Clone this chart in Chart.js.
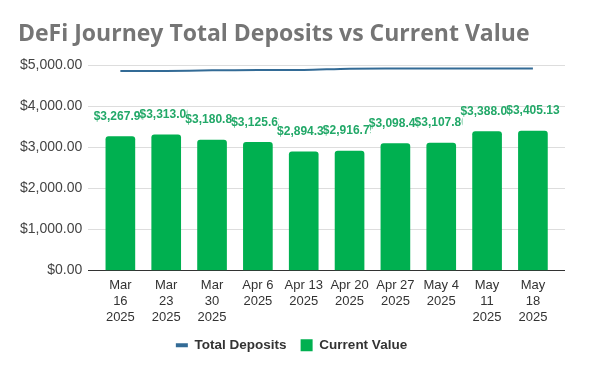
<!DOCTYPE html>
<html>
    <head>
        <style>
            body { margin: 0; background: #fff; }
            #chart-container { width: 600px; height: 371px; }
        </style>
    </head>
    <body>
        <div id="chart-container">
            <canvas id="chart"></canvas>
        </div>
    </body>
    <script src="https://cdn.jsdelivr.net/npm/chart.js"></script>
    <script>
        const weeks = [["Mar", "16", "2025"], ["Mar", "23", "2025"], ["Mar", "30", "2025"], ["Apr 6", "2025"], ["Apr 13", "2025"],
                       ["Apr 20", "2025"], ["Apr 27", "2025"], ["May 4", "2025"], ["May", "11", "2025"], ["May", "18", "2025"]];
        const totalDeposits = [4870, 4870, 4885, 4890, 4895, 4925, 4930, 4930, 4930, 4930];
        const currentValue = [3267.95, 3313.09, 3180.84, 3125.62, 2894.35, 2916.79, 3098.45, 3107.80, 3388.05, 3405.13];
        const yTicks = [0, 1000, 2000, 3000, 4000, 5000];

        const money = (v) => "$" + v.toLocaleString("en-US", {minimumFractionDigits: 2, maximumFractionDigits: 2});

        // bar value labels, each one cut off where the next one starts
        const valueLabels = {
            id: "valueLabels",
            afterDatasetsDraw(chart) {
                const ctx = chart.ctx;
                const meta = chart.getDatasetMeta(1);
                ctx.save();
                ctx.font = "bold 12px 'Liberation Sans', Arial";
                ctx.fillStyle = "#22a868";
                ctx.textBaseline = "middle";
                const items = meta.data.map((bar, i) => {
                    const text = money(currentValue[i]);
                    const w = ctx.measureText(text).width;
                    return {text: text, x: bar.x - w / 2, y: bar.y - 20};
                });
                items.forEach((it, i) => {
                    ctx.save();
                    const right = i < items.length - 1 ? items[i + 1].x + 2 : chart.width;
                    ctx.beginPath();
                    ctx.rect(it.x - 1, it.y - 10, right - it.x + 1, 20);
                    ctx.clip();
                    ctx.fillText(it.text, it.x, it.y);
                    ctx.restore();
                });
                ctx.restore();
            }
        };

        const config = {
            data: {
                datasets: [
                    {
                        type: "line",
                        label: "Total Deposits",
                        data: totalDeposits.map((v, i) => ({x: i, y: v})),
                        borderColor: "#336b96",
                        backgroundColor: "#336b96",
                        borderWidth: 2,
                        pointRadius: 0,
                        tension: 0.3,
                        order: 0
                    },
                    {
                        type: "bar",
                        label: "Current Value",
                        data: currentValue.map((v, i) => ({x: i, y: v})),
                        backgroundColor: "#00b050",
                        barThickness: 29,
                        borderRadius: {topLeft: 3, topRight: 3},
                        borderSkipped: "bottom",
                        order: 1
                    }
                ]
            },
            options: {
                responsive: true,
                maintainAspectRatio: false,
                animation: false,
                layout: {padding: {left: 18, right: 35, top: 8, bottom: 9}},
                plugins: {
                    title: {
                        display: true,
                        text: "DeFi Journey Total Deposits vs Current Value",
                        align: "start",
                        color: "#757575",
                        font: {family: "'Open Sans'", size: 23, weight: "bold"},
                        padding: {top: 13, bottom: 17}
                    },
                    legend: {
                        position: "bottom",
                        labels: {
                            color: "#333",
                            font: {family: "'Liberation Sans', Arial", size: 13.5, weight: "bold"},
                            usePointStyle: true,
                            pointStyleWidth: 12,
                            boxWidth: 12,
                            boxHeight: 12,
                            padding: 14,
                            generateLabels(chart) {
                                return chart.data.datasets.map((ds, i) => ({
                                    text: ds.label,
                                    datasetIndex: i,
                                    fillStyle: ds.backgroundColor,
                                    strokeStyle: ds.backgroundColor,
                                    lineWidth: i === 0 ? 4 : 0,
                                    pointStyle: i === 0 ? "line" : "rect",
                                    fontColor: "#333"
                                }));
                            }
                        }
                    },
                    tooltip: {enabled: false}
                },
                scales: {
                    x: {
                        type: "linear",
                        offset: false,
                        min: -0.7,
                        max: 9.7,
                        grid: {display: false, drawTicks: false},
                        border: {display: false},
                        afterBuildTicks(scale) {
                            scale.ticks = weeks.map((w, i) => ({value: i}));
                        },
                        afterFit(scale) {
                            scale.height -= 8;
                        },
                        ticks: {
                            color: "#333",
                            font: {family: "'Liberation Sans', Arial", size: 13, lineHeight: 1.23},
                            maxRotation: 0,
                            autoSkip: false,
                            padding: 7,
                            callback: (v) => weeks[v]
                        }
                    },
                    y: {
                        min: 0,
                        max: 5000,
                        afterBuildTicks(scale) {
                            scale.ticks = yTicks.map((v) => ({value: v}));
                        },
                        afterFit(scale) {
                            scale.width -= 4;
                        },
                        grid: {
                            color: (c) => c.tick.value === 0 ? "#333" : "#dddddd",
                            drawTicks: false
                        },
                        border: {display: false},
                        ticks: {
                            color: "#444",
                            font: {family: "'Liberation Sans', Arial", size: 14},
                            padding: 6,
                            callback: (v) => money(v)
                        }
                    }
                }
            },
            plugins: [valueLabels]
        };

        const chart = new Chart(document.getElementById("chart"), config);
    </script>
</html>
